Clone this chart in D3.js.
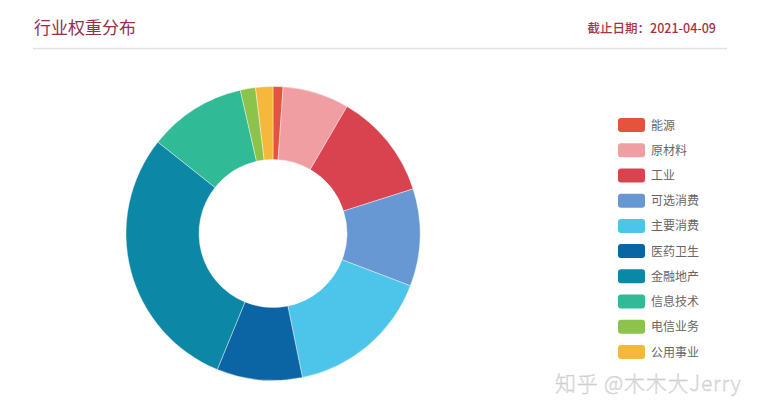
<!doctype html>
<html>
<head>
<meta charset="utf-8">
<script src="https://d3js.org/d3.v7.min.js"></script>
<style>
  html, body { margin: 0; padding: 0; background: #fff; }
  svg { display: block; font-family: "Noto Sans CJK SC", "Noto Sans", sans-serif; }
</style>
</head>
<body>
<div id="container"></div>
<script>
var categories = ["能源", "原材料", "工业", "可选消费", "主要消费", "医药卫生", "金融地产", "信息技术", "电信业务", "公用事业"];
var weights = [1.1, 7.3, 11.7, 10.7, 16.0, 9.4, 29.5, 10.75, 1.67, 1.9];
var palette = ["#e5533c", "#f19ea3", "#d9434f", "#6898d3", "#4dc4ea", "#0b64a3", "#0d87a6", "#30ba96", "#8cc34b", "#f6b83b"];

var title = "行业权重分布";
var dateLabel = "截止日期：2021-04-09";
var watermark = "知乎 @木木大Jerry";

var width = 774, height = 401;
var cx = 273, cy = 233.5, outerR = 147, innerR = 74;

var data = categories.map(function(c, i) { return { name: c, value: weights[i] }; });

var color = d3.scaleOrdinal().domain(categories).range(palette);

var svg = d3.select("#container").append("svg")
  .attr("width", width)
  .attr("height", height);

// header
svg.append("text")
  .attr("x", 34).attr("y", 34)
  .attr("font-size", 17)
  .attr("fill", "#94304c")
  .text(title);

svg.append("text")
  .attr("x", 716).attr("y", 33)
  .attr("text-anchor", "end")
  .attr("font-size", 12.5)
  .attr("font-weight", 500)
  .attr("fill", "#a8323f")
  .text(dateLabel);

svg.append("line")
  .attr("x1", 33).attr("x2", 727)
  .attr("y1", 48.5).attr("y2", 48.5)
  .attr("stroke", "#e2e2e2")
  .attr("stroke-width", 1.5);

// donut
var pie = d3.pie().value(function(d) { return d.value; }).sort(null);
var arc = d3.arc().innerRadius(innerR).outerRadius(outerR);

svg.append("g")
  .attr("transform", "translate(" + cx + "," + cy + ")")
  .selectAll("path")
  .data(pie(data))
  .enter()
  .append("path")
  .attr("d", arc)
  .attr("fill", function(d) { return color(d.data.name); })
  .attr("stroke", "#fff")
  .attr("stroke-opacity", 0.5)
  .attr("stroke-width", 0.8)
  .append("title")
  .text(function(d) { return d.data.name + ": " + d.data.value + "%"; });

// legend
var ly = d3.scalePoint().domain(categories).range([125, 352]);

var legend = svg.append("g")
  .selectAll("g")
  .data(categories)
  .enter()
  .append("g")
  .attr("transform", function(d) { return "translate(618," + ly(d) + ")"; });

legend.append("rect")
  .attr("x", 0).attr("y", -7)
  .attr("width", 27).attr("height", 14)
  .attr("rx", 3)
  .attr("fill", function(d) { return color(d); });

legend.append("text")
  .attr("x", 33).attr("y", 4.5)
  .attr("font-size", 12)
  .attr("fill", "#666")
  .text(function(d) { return d; });

// watermark
svg.append("text")
  .attr("x", 555).attr("y", 391)
  .attr("font-size", 21)
  .attr("font-weight", 300)
  .attr("letter-spacing", 0.8)
  .attr("fill", "#dedede")
  .attr("stroke", "#c4c4c4")
  .attr("stroke-width", 0.3)
  .text(watermark);
</script>
</body>
</html>
